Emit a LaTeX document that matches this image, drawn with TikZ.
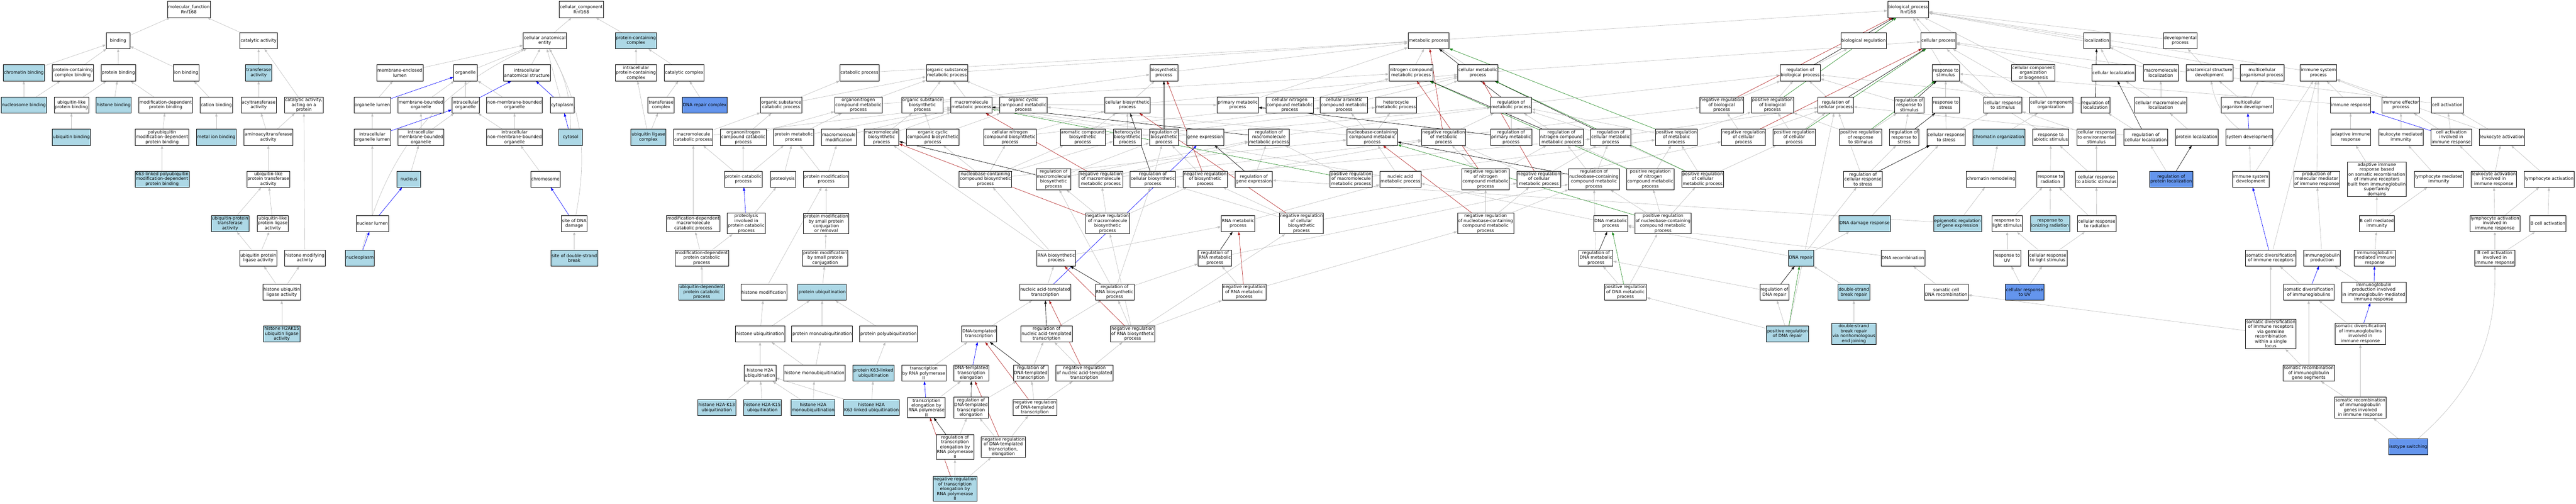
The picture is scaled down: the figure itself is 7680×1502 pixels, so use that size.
\documentclass[tikz,border=0pt]{standalone}
\usepackage{fontspec}
\setmainfont{DejaVu Sans}
\usetikzlibrary{arrows.meta, backgrounds}
\definecolor{hitblue}{HTML}{ADD8E6}
\definecolor{leafblue}{HTML}{6495ED}
\definecolor{isagray}{HTML}{C0C0C0}
\definecolor{negred}{HTML}{B22222}
\definecolor{posgreen}{HTML}{228B22}
\tikzset{goterm/.style={ % Sets the properties for each GO term box
draw, rectangle, fill=white, line width=1pt, align=center,
minimum width=71pt, minimum height=48pt, inner xsep=2pt, inner ysep=3pt,
font=\fontsize{13pt}{14.5pt}\selectfont},
annot/.style={fill=hitblue}, % annotated terms
direct/.style={fill=leafblue}, % terms of the query
every edge/.style={ % Sets the properties for each relation
draw, line width=1pt, -{Triangle[length=10pt,width=7pt]}},
isa/.style={draw=isagray},
partof/.style={draw=blue},
reg/.style={draw=black},
negreg/.style={draw=negred},
posreg/.style={draw=posgreen}}

\begin{document}
\begin{tikzpicture}[x=1pt, y=-1pt]
\useasboundingbox (0,0) rectangle (7680,1502);

% molecular function
\node[goterm] (mf) at (563,28) {molecular\_function\\Rnf168};
\node[goterm] (binding) at (352,121) {binding};
\node[goterm] (catact) at (771,121) {catalytic activity};
\node[goterm, annot] (chrombind) at (71,217) {chromatin binding};
\node[goterm] (pccbind) at (217,217) {protein-containing\\complex binding};
\node[goterm] (protbind) at (353,217) {protein binding};
\node[goterm] (ionbind) at (555,217) {ion binding};
\node[goterm, annot] (transf) at (771,217) {transferase\\activity};
\node[goterm, annot] (nucbind) at (71,313) {nucleosome binding};
\node[goterm] (ublbind) at (213,313) {ubiquitin-like\\protein binding};
\node[goterm, annot] (histbind) at (339,313) {histone binding};
\node[goterm] (moddepbind) at (494,313) {modification-dependent\\protein binding};
\node[goterm] (catbind) at (645,313) {cation binding};
\node[goterm] (acyl) at (771,313) {acyltransferase\\activity};
\node[goterm] (catprot) at (906,313) {catalytic activity,\\acting on a\\protein};
\node[goterm, annot] (ubbind) at (213,409) {ubiquitin binding};
\node[goterm] (polyubbind) at (483,409) {polyubiquitin\\modification-dependent\\protein binding};
\node[goterm, annot] (metalbind) at (645,409) {metal ion binding};
\node[goterm] (aminoacyl) at (800,409) {aminoacyltransferase\\activity};
\node[goterm, annot] (k63bind) at (483,534) {K63-linked polyubiquitin\\modification-dependent\\protein binding};
\node[goterm] (ubltransf) at (800,534) {ubiquitin-like\\protein transferase\\activity};
\node[goterm, annot] (ubtransf) at (686,666) {ubiquitin-protein\\transferase\\activity};
\node[goterm] (ublligase) at (813,666) {ubiquitin-like\\protein ligase\\activity};
\node[goterm] (ubligase) at (770,769) {ubiquitin protein\\ligase activity};
\node[goterm] (histmod) at (909,769) {histone modifying\\activity};
\node[goterm] (histubligase) at (840,871) {histone ubiquitin\\ligase activity};
\node[goterm, annot] (h2ak15ligase) at (840,995) {histone H2AK15\\ubiquitin ligase\\activity};

% cellular component
\node[goterm] (cc) at (1733,28) {cellular\_component\\Rnf168};
\node[goterm] (cae) at (1624,121) {cellular anatomical\\entity};
\node[goterm, annot] (pcc) at (1896,121) {protein-containing\\complex};
\node[goterm] (memlumen) at (1192,217) {membrane-enclosed\\lumen};
\node[goterm] (organelle) at (1388,217) {organelle};
\node[goterm] (ias) at (1571,217) {intracellular\\anatomical structure};
\node[goterm] (ipcc) at (1896,217) {intracellular\\protein-containing\\complex};
\node[goterm] (catcomplex) at (2040,217) {catalytic complex};
\node[goterm] (orglumen) at (1110,313) {organelle lumen};
\node[goterm] (mbo) at (1255,313) {membrane-bounded\\organelle};
\node[goterm] (intorg) at (1388,313) {intracellular\\organelle};
\node[goterm] (nmbo) at (1534,313) {non-membrane-bounded\\organelle};
\node[goterm] (cytoplasm) at (1676,313) {cytoplasm};
\node[goterm] (transfcomplex) at (1971,313) {transferase\\complex};
\node[goterm, direct] (dnarepcomplex) at (2101,313) {DNA repair complex};
\node[goterm] (iolumen) at (1110,409) {intracellular\\organelle lumen};
\node[goterm] (imbo) at (1255,409) {intracellular\\membrane-bounded\\organelle};
\node[goterm] (inmbo) at (1534,409) {intracellular\\non-membrane-bounded\\organelle};
\node[goterm, annot] (cytosol) at (1701,409) {cytosol};
\node[goterm, annot] (ubligcomplex) at (1933,409) {ubiquitin ligase\\complex};
\node[goterm, annot] (nucleus) at (1219,534) {nucleus};
\node[goterm] (chromosome) at (1626,534) {chromosome};
\node[goterm] (nuclumen) at (1110,666) {nuclear lumen};
\node[goterm] (dnadamsite) at (1712,666) {site of DNA\\damage};
\node[goterm, annot] (nucleoplasm) at (1073,769) {nucleoplasm};
\node[goterm, annot] (dsbsite) at (1712,769) {site of double-strand\\break};

% biological process: protein metabolism
\node[goterm] (bp) at (5689,28) {biological\_process\\Rnf168};
\node[goterm] (catab) at (2562,217) {catabolic process};
\node[goterm] (orgcatab) at (2329,313) {organic substance\\catabolic process};
\node[goterm] (orgNmet) at (2559,313) {organonitrogen\\compound metabolic\\process};
\node[goterm] (macrocatab) at (2067,409) {macromolecule\\catabolic process};
\node[goterm] (orgNcatab) at (2216,409) {organonitrogen\\compound catabolic\\process};
\node[goterm] (protmet) at (2366,409) {protein metabolic\\process};
\node[goterm] (macromod) at (2501,409) {macromolecule\\modification};
\node[goterm] (protcatab) at (2216,534) {protein catabolic\\process};
\node[goterm] (proteolysis) at (2334,534) {proteolysis};
\node[goterm] (protmod) at (2463,534) {protein modification\\process};
\node[goterm] (moddepmacrocatab) at (2067,666) {modification-dependent\\macromolecule\\catabolic process};
\node[goterm] (proteolysiscatab) at (2225,666) {proteolysis\\involved in\\protein catabolic\\process};
\node[goterm] (protmodsmall) at (2463,666) {protein modification\\by small protein\\conjugation\\or removal};
\node[goterm] (moddepprotcatab) at (2092,769) {modification-dependent\\protein catabolic\\process};
\node[goterm] (protmodconj) at (2460,769) {protein modification\\by small protein\\conjugation};
\node[goterm, annot] (ubdepcatab) at (2092,871) {ubiquitin-dependent\\protein catabolic\\process};
\node[goterm] (histmodif) at (2277,871) {histone modification};
\node[goterm, annot] (protubiq) at (2451,871) {protein ubiquitination};
\node[goterm] (histubiq) at (2266,995) {histone ubiquitination};
\node[goterm] (protmonoubiq) at (2451,995) {protein monoubiquitination};
\node[goterm] (protpolyubiq) at (2649,995) {protein polyubiquitination};
\node[goterm] (h2aubiq) at (2266,1112) {histone H2A\\ubiquitination};
\node[goterm] (histmonoubiq) at (2428,1112) {histone monoubiquitination};
\node[goterm, annot] (k63ubiq) at (2604,1112) {protein K63-linked\\ubiquitination};
\node[goterm, annot] (h2ak13) at (2137,1215) {histone H2A-K13\\ubiquitination};
\node[goterm, annot] (h2ak15) at (2273,1215) {histone H2A-K15\\ubiquitination};
\node[goterm, annot] (h2amono) at (2424,1215) {histone H2A\\monoubiquitination};
\node[goterm, annot] (h2ak63) at (2598,1215) {histone H2A\\K63-linked ubiquitination};

% biosynthesis and transcription
\node[goterm] (orgsubmet) at (2823,217) {organic substance\\metabolic process};
\node[goterm] (biosyn) at (3470,217) {biosynthetic\\process};
\node[goterm] (orgsubbiosyn) at (2750,313) {organic substance\\biosynthetic\\process};
\node[goterm] (macromet) at (2896,313) {macromolecule\\metabolic process};
\node[goterm] (orgcycmet) at (3051,313) {organic cyclic\\compound metabolic\\process};
\node[goterm] (cellbiosyn) at (3361,313) {cellular biosynthetic\\process};
\node[goterm] (primmet) at (3690,313) {primary metabolic\\process};
\node[goterm] (cellNmet) at (3845,313) {cellular nitrogen\\compound metabolic\\process};
\node[goterm] (macrobiosyn) at (2628,409) {macromolecule\\biosynthetic\\process};
\node[goterm] (orgcycbiosyn) at (2781,409) {organic cyclic\\compound biosynthetic\\process};
\node[goterm] (cellNbiosyn) at (3011,409) {cellular nitrogen\\compound biosynthetic\\process};
\node[goterm] (arombiosyn) at (3228,409) {aromatic compound\\biosynthetic\\process};
\node[goterm] (hetbiosyn) at (3361,409) {heterocycle\\biosynthetic\\process};
\node[goterm] (regbiosyn) at (3470,409) {regulation of\\biosynthetic\\process};
\node[goterm] (geneexpr) at (3593,409) {gene expression};
\node[goterm] (regmacromet) at (3783,409) {regulation of\\macromolecule\\metabolic process};
\node[goterm] (nucbiosyn) at (2938,534) {nucleobase-containing\\compound biosynthetic\\process};
\node[goterm] (regmacrobiosyn) at (3141,534) {regulation of\\macromolecule\\biosynthetic\\process};
\node[goterm] (negregmacromet) at (3282,534) {negative regulation\\of macromolecule\\metabolic process};
\node[goterm] (regcellbiosyn) at (3437,534) {regulation of\\cellular biosynthetic\\process};
\node[goterm] (negregbiosyn) at (3593,534) {negative regulation\\of biosynthetic\\process};
\node[goterm] (reggeneexpr) at (3738,534) {regulation of\\gene expression};
\node[goterm] (negregmacrobiosyn) at (3302,666) {negative regulation\\of macromolecule\\biosynthetic\\process};
\node[goterm] (rnamet) at (3691,666) {RNA metabolic\\process};
\node[goterm] (negregcellbiosyn) at (3880,666) {negative regulation\\of cellular\\biosynthetic\\process};
\node[goterm] (rnabiosyn) at (3149,769) {RNA biosynthetic\\process};
\node[goterm] (regrnamet) at (3622,769) {regulation of\\RNA metabolic\\process};
\node[goterm] (natrans) at (3116,871) {nucleic acid-templated\\transcription};
\node[goterm] (regrnabiosyn) at (3323,871) {regulation of\\RNA biosynthetic\\process};
\node[goterm] (negregrnamet) at (3709,871) {negative regulation\\of RNA metabolic\\process};
\node[goterm] (dnatrans) at (2919,995) {DNA-templated\\transcription};
\node[goterm] (regnatrans) at (3120,995) {regulation of\\nucleic acid-templated\\transcription};
\node[goterm] (negregrnabiosyn) at (3377,995) {negative regulation\\of RNA biosynthetic\\process};
\node[goterm] (transpol2) at (2754,1112) {transcription\\by RNA polymerase\\II};
\node[goterm] (dnaelong) at (2896,1112) {DNA-templated\\transcription\\elongation};
\node[goterm] (regdnatrans) at (3073,1112) {regulation of\\DNA-templated\\transcription};
\node[goterm] (negregnatrans) at (3233,1112) {negative regulation\\of nucleic acid-templated\\transcription};
\node[goterm] (elongpol2) at (2762,1215) {transcription\\elongation by\\RNA polymerase\\II};
\node[goterm] (regdnaelong) at (2895,1215) {regulation of\\DNA-templated\\transcription\\elongation};
\node[goterm] (negregdnatrans) at (3085,1215) {negative regulation\\of DNA-templated\\transcription};
\node[goterm] (regelongpol2) at (2847,1332) {regulation of\\transcription\\elongation by\\RNA polymerase\\II};
\node[goterm] (negregdnaelong) at (2991,1332) {negative regulation\\of DNA-templated\\transcription,\\elongation};
\node[goterm, annot] (negregelongpol2) at (2847,1457) {negative regulation\\of transcription\\elongation by\\RNA polymerase\\II};

% metabolism and its regulation
\node[goterm] (metab) at (4259,121) {metabolic process};
\node[goterm] (nmet) at (4207,217) {nitrogen compound\\metabolic process};
\node[goterm] (cellmet) at (4406,217) {cellular metabolic\\process};
\node[goterm] (cellaromet) at (4007,313) {cellular aromatic\\compound metabolic\\process};
\node[goterm] (hetmet) at (4162,313) {heterocycle\\metabolic process};
\node[goterm] (regmet) at (4505,313) {regulation of\\metabolic process};
\node[goterm] (negregbio) at (5133,313) {negative regulation\\of biological\\process};
\node[goterm] (nucmet) at (4091,409) {nucleobase-containing\\compound metabolic\\process};
\node[goterm] (negregmet) at (4304,409) {negative regulation\\of metabolic\\process};
\node[goterm] (regprimmet) at (4505,409) {regulation of\\primary metabolic\\process};
\node[goterm] (regnmet) at (4655,409) {regulation of\\nitrogen compound\\metabolic process};
\node[goterm] (regcellmet) at (4802,409) {regulation of\\cellular metabolic\\process};
\node[goterm] (posregmet) at (4998,409) {positive regulation\\of metabolic\\process};
\node[goterm] (posregmacromet) at (4028,534) {positive regulation\\of macromolecule\\metabolic process};
\node[goterm] (nucacidmet) at (4175,534) {nucleic acid\\metabolic process};
\node[goterm] (negregnmet) at (4429,534) {negative regulation\\of nitrogen\\compound metabolic\\process};
\node[goterm] (negregcellmet) at (4588,534) {negative regulation\\of cellular\\metabolic process};
\node[goterm] (regnucmet) at (4752,534) {regulation of\\nucleobase-containing\\compound metabolic\\process};
\node[goterm] (posregnmet) at (4920,534) {positive regulation\\of nitrogen\\compound metabolic\\process};
\node[goterm] (posregcellmet) at (5076,534) {positive regulation\\of cellular\\metabolic process};
\node[goterm] (negregnucmet) at (4429,666) {negative regulation\\of nucleobase-containing\\compound metabolic\\process};
\node[goterm] (dnamet) at (4802,666) {DNA metabolic\\process};
\node[goterm] (posregnucmet) at (4958,666) {positive regulation\\of nucleobase-containing\\compound metabolic\\process};
\node[goterm] (regdnamet) at (4758,769) {regulation of\\DNA metabolic\\process};
\node[goterm] (posregdnamet) at (4846,871) {positive regulation\\of DNA metabolic\\process};

% regulation, stimulus, localization, immunity
\node[goterm] (bioreg) at (5556,121) {biological regulation};
\node[goterm] (cellproc) at (5779,121) {cellular process};
\node[goterm] (localization) at (6251,121) {localization};
\node[goterm] (devproc) at (6500,121) {developmental\\process};
\node[goterm] (regbio) at (5367,217) {regulation of\\biological process};
\node[goterm] (respstim) at (5801,217) {response to\\stimulus};
\node[goterm] (ccob) at (6062,217) {cellular component\\organization\\or biogenesis};
\node[goterm] (cellloc) at (6301,217) {cellular localization};
\node[goterm] (macroloc) at (6442,217) {macromolecule\\localization};
\node[goterm] (anatdev) at (6587,217) {anatomical structure\\development};
\node[goterm] (multiproc) at (6744,217) {multicellular\\organismal process};
\node[goterm] (immproc) at (6912,217) {immune system\\process};
\node[goterm] (posregbio) at (5284,313) {positive regulation\\of biological\\process};
\node[goterm] (regcellproc) at (5473,313) {regulation of\\cellular process};
\node[goterm] (regrespstim) at (5692,313) {regulation of\\response to\\stimulus};
\node[goterm] (respstress) at (5801,313) {response to\\stress};
\node[goterm] (cellrespstim) at (5971,313) {cellular response\\to stimulus};
\node[goterm] (cco) at (6115,313) {cellular component\\organization};
\node[goterm] (regloc) at (6247,313) {regulation of\\localization};
\node[goterm] (cellmacroloc) at (6442,313) {cellular macromolecule\\localization};
\node[goterm] (multidev) at (6700,313) {multicellular\\organism development};
\node[goterm] (immresp) at (7008,313) {immune response};
\node[goterm] (immeff) at (7158,313) {immune effector\\process};
\node[goterm] (cellact) at (7296,313) {cell activation};
\node[goterm] (negregcellproc) at (5198,409) {negative regulation\\of cellular\\process};
\node[goterm] (posregcellproc) at (5349,409) {positive regulation\\of cellular\\process};
\node[goterm] (posregrespstim) at (5547,409) {positive regulation\\of response\\to stimulus};
\node[goterm] (regrespstress) at (5677,409) {regulation of\\response to\\stress};
\node[goterm] (cellrespstress) at (5802,409) {cellular response\\to stress};
\node[goterm, annot] (chromorg) at (5959,409) {chromatin organization};
\node[goterm] (respabiotic) at (6114,409) {response to\\abiotic stimulus};
\node[goterm] (cellrespenv) at (6250,409) {cellular response\\to environmental\\stimulus};
\node[goterm] (regcellloc) at (6397,409) {regulation of\\cellular localization};
\node[goterm] (protloc) at (6549,409) {protein localization};
\node[goterm] (sysdev) at (6706,409) {system development};
\node[goterm] (adaptimm) at (7008,409) {adaptive immune\\response};
\node[goterm] (leukimm) at (7158,409) {leukocyte mediated\\immunity};
\node[goterm] (cellactimm) at (7308,409) {cell activation\\involved in\\immune response};
\node[goterm] (leukact) at (7459,409) {leukocyte activation};
\node[goterm] (regcellrespstress) at (5554,534) {regulation of\\cellular response\\to stress};
\node[goterm] (chromremod) at (5936,534) {chromatin remodeling};
\node[goterm] (resprad) at (6113,534) {response to\\radiation};
\node[goterm] (cellrespabiotic) at (6250,534) {cellular response\\to abiotic stimulus};
\node[goterm, direct] (regprotloc) at (6473,534) {regulation of\\protein localization};
\node[goterm] (immsysdev) at (6710,534) {immune system\\development};
\node[goterm] (prodmed) at (6907,534) {production of\\molecular mediator\\of immune response};
\node[goterm] (adaptsomatic) at (7086,534) {adaptive immune\\response based\\on somatic recombination\\of immune receptors\\built from immunoglobulin\\superfamily\\domains};
\node[goterm] (lymphimm) at (7271,534) {lymphocyte mediated\\immunity};
\node[goterm] (leukactimm) at (7435,534) {leukocyte activation\\involved in\\immune response};
\node[goterm] (lymphact) at (7600,534) {lymphocyte activation};
\node[goterm, annot] (dnadamresp) at (5559,666) {DNA damage response};
\node[goterm, annot] (epigen) at (5836,666) {epigenetic regulation\\of gene expression};
\node[goterm] (resplight) at (5984,666) {response to\\light stimulus};
\node[goterm, annot] (respionrad) at (6112,666) {response to\\ionizing radiation};
\node[goterm] (cellresprad) at (6251,666) {cellular response\\to radiation};
\node[goterm] (bcellimm) at (7086,666) {B cell mediated\\immunity};
\node[goterm] (lymphactimm) at (7438,666) {lymphocyte activation\\involved in\\immune response};
\node[goterm] (bcellact) at (7596,666) {B cell activation};
\node[goterm, annot] (dnarepair) at (5369,769) {DNA repair};
\node[goterm] (dnarecomb) at (5673,769) {DNA recombination};
\node[goterm] (respuv) at (5984,769) {response to\\UV};
\node[goterm] (cellresplight) at (6105,769) {cellular response\\to light stimulus};
\node[goterm] (somdivrec) at (6770,769) {somatic diversification\\of immune receptors};
\node[goterm] (igprod) at (6923,769) {immunoglobulin\\production};
\node[goterm] (igmedresp) at (7080,769) {immunoglobulin\\mediated immune\\response};
\node[goterm] (bcellactimm) at (7438,769) {B cell activation\\involved in\\immune response};
\node[goterm] (regdnarepair) at (5290,871) {regulation of\\DNA repair};
\node[goterm, annot] (dsbrepair) at (5527,871) {double-strand\\break repair};
\node[goterm] (somcellrecomb) at (5802,871) {somatic cell\\DNA recombination};
\node[goterm, direct] (cellrespuv) at (6036,871) {cellular response\\to UV};
\node[goterm] (somdivig) at (6883,871) {somatic diversification\\of immunoglobulins};
\node[goterm] (igprodinv) at (7077,871) {immunoglobulin\\production involved\\in immunoglobulin-mediated\\immune response};
\node[goterm, annot] (posregdnarepair) at (5329,995) {positive regulation\\of DNA repair};
\node[goterm, annot] (nhej) at (5527,995) {double-strand\\break repair\\via nonhomologous\\end joining};
\node[goterm] (somdivgerm) at (6770,995) {somatic diversification\\of immune receptors\\via germline\\recombination\\within a single\\locus};
\node[goterm] (somdivigimm) at (7037,995) {somatic diversification\\of immunoglobulins\\involved in\\immune response};
\node[goterm] (somrecseg) at (6883,1112) {somatic recombination\\of immunoglobulin\\gene segments};
\node[goterm] (somrecimm) at (7037,1215) {somatic recombination\\of immunoglobulin\\genes involved\\in immune response};
\node[goterm, direct] (isotype) at (7180,1332) {isotype switching};

\begin{scope}[on background layer]
\fill[white] (0,0) rectangle (7680,1502);
% molecular function
\draw (binding) edge[isa] (mf);
\draw (catact) edge[isa] (mf);
\draw (chrombind) edge[isa] (binding);
\draw (pccbind) edge[isa] (binding);
\draw (protbind) edge[isa] (binding);
\draw (ionbind) edge[isa] (binding);
\draw (transf) edge[isa] (catact);
\draw (catprot) edge[isa] (catact);
\draw (nucbind) edge[isa] (chrombind) edge[isa] (pccbind);
\draw (ublbind) edge[isa] (protbind);
\draw (histbind) edge[isa] (protbind);
\draw (moddepbind) edge[isa] (protbind);
\draw (catbind) edge[isa] (ionbind);
\draw (acyl) edge[isa] (transf);
\draw (ubbind) edge[isa] (ublbind);
\draw (polyubbind) edge[isa] (moddepbind);
\draw (metalbind) edge[isa] (catbind);
\draw (aminoacyl) edge[isa] (acyl) edge[isa] (catprot);
\draw (k63bind) edge[isa] (polyubbind);
\draw (ubltransf) edge[isa] (aminoacyl);
\draw (ubtransf) edge[isa] (ubltransf);
\draw (ublligase) edge[isa] (ubltransf);
\draw (ubligase) edge[isa] (ubtransf) edge[isa] (ublligase);
\draw (histmod) edge[isa] (catprot);
\draw (histubligase) edge[isa] (ubligase) edge[isa] (histmod);
\draw (h2ak15ligase) edge[isa] (histubligase);
% cellular component
\draw (cae) edge[isa] (cc);
\draw (pcc) edge[isa] (cc);
\draw (memlumen) edge[isa] (cae);
\draw (organelle) edge[isa] (cae);
\draw (ias) edge[isa] (cae);
\draw (ipcc) edge[isa] (pcc);
\draw (catcomplex) edge[isa] (pcc);
\draw (orglumen) edge[isa] (memlumen) edge[partof] (organelle);
\draw (mbo) edge[isa] (organelle);
\draw (intorg) edge[isa] (organelle) edge[partof] (ias);
\draw (nmbo) edge[isa] (organelle);
\draw (cytoplasm) edge[isa] (cae) edge[partof] (ias);
\draw (transfcomplex) edge[isa] (catcomplex);
\draw (dnarepcomplex) edge[isa] (catcomplex);
\draw (iolumen) edge[isa] (orglumen) edge[partof] (intorg);
\draw (imbo) edge[isa] (mbo) edge[isa] (intorg);
\draw (inmbo) edge[isa] (intorg) edge[isa] (nmbo);
\draw (cytosol) edge[isa, bend right=15] (cae) edge[partof] (cytoplasm);
\draw (ubligcomplex) edge[isa] (ipcc) edge[isa] (transfcomplex);
\draw (nucleus) edge[isa] (imbo);
\draw (chromosome) edge[isa] (inmbo);
\draw (nuclumen) edge[isa] (iolumen) edge[partof] (nucleus);
\draw (dnadamsite) edge[isa, bend right=20] (cae) edge[partof] (chromosome);
\draw (nucleoplasm) edge[isa, bend left=25] (cae) edge[partof] (nuclumen);
\draw (dsbsite) edge[isa] (dnadamsite);
% protein metabolism
\draw (catab) edge[isa] (metab);
\draw (orgcatab) edge[isa] (catab) edge[isa] (orgsubmet);
\draw (orgNmet) edge[isa] (orgsubmet) edge[isa] (nmet);
\draw (macrocatab) edge[isa] (orgcatab) edge[isa] (macromet);
\draw (orgNcatab) edge[isa] (orgcatab) edge[isa] (orgNmet);
\draw (protmet) edge[isa] (orgNmet) edge[isa] (macromet);
\draw (macromod) edge[isa] (macromet);
\draw (protcatab) edge[isa] (macrocatab) edge[isa] (orgNcatab) edge[isa] (protmet);
\draw (proteolysis) edge[isa] (protmet);
\draw (protmod) edge[isa] (protmet) edge[isa] (macromod);
\draw (moddepmacrocatab) edge[isa] (macrocatab);
\draw (proteolysiscatab) edge[isa] (proteolysis) edge[partof] (protcatab);
\draw (protmodsmall) edge[isa] (protmod);
\draw (moddepprotcatab) edge[isa] (moddepmacrocatab) edge[isa] (proteolysiscatab);
\draw (protmodconj) edge[isa] (protmodsmall);
\draw (ubdepcatab) edge[isa] (moddepprotcatab);
\draw (histmodif) edge[isa] (protmod);
\draw (protubiq) edge[isa] (protmodconj);
\draw (histubiq) edge[isa] (histmodif) edge[isa] (protubiq);
\draw (protmonoubiq) edge[isa] (protubiq);
\draw (protpolyubiq) edge[isa] (protubiq);
\draw (h2aubiq) edge[isa] (histubiq);
\draw (histmonoubiq) edge[isa] (histubiq) edge[isa] (protmonoubiq);
\draw (k63ubiq) edge[isa] (protpolyubiq);
\draw (h2ak13) edge[isa] (h2aubiq);
\draw (h2ak15) edge[isa] (h2aubiq);
\draw (h2amono) edge[isa] (h2aubiq) edge[isa] (histmonoubiq);
\draw (h2ak63) edge[isa] (h2aubiq) edge[isa] (k63ubiq);
% biosynthesis and transcription
\draw (orgsubmet) edge[isa] (metab);
\draw (biosyn) edge[isa] (metab);
\draw (orgsubbiosyn) edge[isa] (orgsubmet) edge[isa] (biosyn);
\draw (macromet) edge[isa] (orgsubmet) edge[isa] (primmet);
\draw (orgcycmet) edge[isa] (orgsubmet);
\draw (cellbiosyn) edge[isa] (biosyn) edge[isa] (cellmet);
\draw (primmet) edge[isa] (metab);
\draw (cellNmet) edge[isa] (nmet) edge[isa] (cellmet);
\draw (macrobiosyn) edge[isa] (macromet) edge[isa] (orgsubbiosyn);
\draw (orgcycbiosyn) edge[isa] (orgsubbiosyn) edge[isa] (orgcycmet);
\draw (cellNbiosyn) edge[isa] (cellbiosyn) edge[isa] (cellNmet);
\draw (arombiosyn) edge[isa] (cellbiosyn) edge[isa] (cellaromet);
\draw (hetbiosyn) edge[isa] (cellbiosyn) edge[isa] (hetmet);
\draw (regbiosyn) edge[isa] (regmet) edge[reg] (biosyn);
\draw (geneexpr) edge[isa] (macromet);
\draw (regmacromet) edge[isa] (regmet) edge[reg] (macromet);
\draw (nucbiosyn) edge[isa] (nucmet) edge[isa] (orgcycbiosyn) edge[isa] (cellNbiosyn) edge[isa] (arombiosyn) edge[isa] (hetbiosyn);
\draw (regmacrobiosyn) edge[isa] (regbiosyn) edge[isa] (regmacromet) edge[reg] (macrobiosyn);
\draw (negregmacromet) edge[isa] (regmacromet) edge[isa] (negregmet) edge[negreg] (macromet);
\draw (regcellbiosyn) edge[isa] (regbiosyn) edge[isa] (regcellmet) edge[reg] (cellbiosyn);
\draw (negregbiosyn) edge[isa] (regbiosyn) edge[isa] (negregmet) edge[negreg] (biosyn);
\draw (reggeneexpr) edge[isa] (regmacromet) edge[reg] (geneexpr);
\draw (negregmacrobiosyn) edge[isa] (regmacrobiosyn) edge[isa] (negregmacromet) edge[isa] (negregbiosyn) edge[negreg] (macrobiosyn);
\draw (rnamet) edge[isa] (nucacidmet);
\draw (negregcellbiosyn) edge[isa] (regcellbiosyn) edge[isa] (negregbiosyn) edge[isa] (negregcellmet) edge[negreg] (cellbiosyn);
\draw (rnabiosyn) edge[isa] (rnamet) edge[isa] (nucbiosyn) edge[isa] (macrobiosyn);
\draw (regrnamet) edge[isa] (regnucmet) edge[reg] (rnamet);
\draw (natrans) edge[isa] (rnabiosyn) edge[partof] (geneexpr);
\draw (regrnabiosyn) edge[isa] (regrnamet) edge[isa] (regmacrobiosyn) edge[isa] (regcellbiosyn) edge[reg] (rnabiosyn);
\draw (negregrnamet) edge[isa] (regrnamet) edge[isa] (negregnucmet) edge[negreg] (rnamet);
\draw (dnatrans) edge[isa] (natrans);
\draw (regnatrans) edge[isa] (regrnabiosyn) edge[reg] (natrans);
\draw (negregrnabiosyn) edge[isa] (regrnabiosyn) edge[isa] (negregrnamet) edge[isa] (negregmacrobiosyn) edge[isa] (negregcellbiosyn) edge[negreg] (rnabiosyn);
\draw (transpol2) edge[isa] (dnatrans);
\draw (dnaelong) edge[partof] (dnatrans);
\draw (regdnatrans) edge[isa] (regnatrans) edge[reg] (dnatrans);
\draw (negregnatrans) edge[isa] (regnatrans) edge[isa] (negregrnabiosyn) edge[negreg] (natrans);
\draw (elongpol2) edge[isa] (dnaelong) edge[partof] (transpol2);
\draw (regdnaelong) edge[isa] (regdnatrans) edge[reg] (dnaelong);
\draw (negregdnatrans) edge[isa] (regdnatrans) edge[isa] (negregnatrans) edge[negreg] (dnatrans);
\draw (regelongpol2) edge[isa] (regdnaelong) edge[reg] (elongpol2);
\draw (negregdnaelong) edge[isa] (regdnaelong) edge[isa] (negregdnatrans) edge[negreg] (dnaelong);
\draw (negregelongpol2) edge[isa] (regelongpol2) edge[isa] (negregdnaelong) edge[negreg] (elongpol2);
% metabolism and its regulation
\draw (metab) edge[isa] (bp);
\draw (nmet) edge[isa] (metab);
\draw (cellmet) edge[isa] (metab) edge[isa] (cellproc);
\draw (cellaromet) edge[isa] (cellmet);
\draw (hetmet) edge[isa] (cellmet);
\draw (regmet) edge[isa] (regbio) edge[reg] (metab);
\draw (nucmet) edge[isa] (cellaromet) edge[isa] (hetmet) edge[isa] (orgcycmet) edge[isa] (cellNmet);
\draw (negregmet) edge[isa] (regmet) edge[isa] (negregbio) edge[negreg] (metab);
\draw (regprimmet) edge[isa] (regmet) edge[reg] (primmet);
\draw (regnmet) edge[isa] (regmet) edge[reg] (nmet);
\draw (regcellmet) edge[isa] (regmet) edge[isa] (regcellproc) edge[reg] (cellmet);
\draw (posregmet) edge[isa] (regmet) edge[isa] (posregbio) edge[posreg] (metab);
\draw (posregmacromet) edge[isa] (regmacromet) edge[isa] (posregmet) edge[posreg] (macromet);
\draw (nucacidmet) edge[isa] (nucmet) edge[isa] (macromet);
\draw (negregnmet) edge[isa] (regnmet) edge[isa] (negregmet) edge[negreg] (nmet);
\draw (negregcellmet) edge[isa] (regcellmet) edge[isa] (negregmet) edge[isa] (negregcellproc) edge[negreg] (cellmet);
\draw (regnucmet) edge[isa] (regnmet) edge[isa] (regcellmet) edge[reg] (nucmet);
\draw (posregnmet) edge[isa] (regnmet) edge[isa] (posregmet) edge[posreg] (nmet);
\draw (posregcellmet) edge[isa] (regcellmet) edge[isa] (posregmet) edge[isa] (posregcellproc) edge[posreg] (cellmet);
\draw (negregnucmet) edge[isa] (regnucmet) edge[isa] (negregnmet) edge[isa] (negregcellmet) edge[negreg] (nucmet);
\draw (dnamet) edge[isa] (nucacidmet);
\draw (posregnucmet) edge[isa] (regnucmet) edge[isa] (posregnmet) edge[isa] (posregcellmet) edge[posreg] (nucmet);
\draw (regdnamet) edge[isa] (regnucmet) edge[reg] (dnamet);
\draw (posregdnamet) edge[isa] (regdnamet) edge[isa] (posregnucmet) edge[posreg] (dnamet);
% regulation, stimulus, localization, immunity
\draw (bioreg) edge[isa] (bp);
\draw (cellproc) edge[isa] (bp);
\draw (localization) edge[isa] (bp);
\draw (devproc) edge[isa] (bp);
\draw (respstim) edge[isa] (bp);
\draw (ccob) edge[isa] (bp);
\draw (multiproc) edge[isa] (bp);
\draw (immproc) edge[isa] (bp);
\draw (regbio) edge[isa] (bioreg) edge[reg] (bp);
\draw (negregbio) edge[isa] (regbio) edge[negreg] (bp);
\draw (posregbio) edge[isa] (regbio) edge[posreg] (bp);
\draw (regcellproc) edge[isa] (regbio) edge[reg] (cellproc);
\draw (regrespstim) edge[isa] (regbio) edge[reg] (respstim);
\draw (respstress) edge[isa] (respstim);
\draw (cellrespstim) edge[isa] (respstim) edge[isa] (cellproc);
\draw (cco) edge[isa] (ccob) edge[isa] (cellproc);
\draw (regloc) edge[isa] (regbio) edge[reg] (localization);
\draw (cellloc) edge[isa] (localization) edge[isa] (cellproc);
\draw (macroloc) edge[isa] (localization);
\draw (cellmacroloc) edge[isa] (macroloc) edge[isa] (cellloc);
\draw (anatdev) edge[isa] (devproc);
\draw (multidev) edge[isa] (anatdev) edge[isa] (multiproc);
\draw (immresp) edge[isa] (immproc) edge[isa] (respstim);
\draw (immeff) edge[isa] (immproc);
\draw (cellact) edge[isa] (cellproc);
\draw (negregcellproc) edge[isa] (regcellproc) edge[isa] (negregbio) edge[negreg] (cellproc);
\draw (posregcellproc) edge[isa] (regcellproc) edge[isa] (posregbio) edge[posreg] (cellproc);
\draw (posregrespstim) edge[isa] (regrespstim) edge[isa] (posregbio) edge[posreg] (respstim);
\draw (regrespstress) edge[isa] (regrespstim) edge[reg] (respstress);
\draw (cellrespstress) edge[isa] (respstress) edge[isa] (cellrespstim);
\draw (chromorg) edge[isa] (cco);
\draw (respabiotic) edge[isa] (respstim);
\draw (cellrespenv) edge[isa] (cellrespstim);
\draw (regcellloc) edge[isa] (regloc) edge[isa] (regcellproc) edge[reg] (cellloc);
\draw (protloc) edge[isa] (cellmacroloc);
\draw (sysdev) edge[isa, bend left=20] (anatdev) edge[partof] (multidev);
\draw (adaptimm) edge[isa] (immresp);
\draw (leukimm) edge[isa] (immeff);
\draw (cellactimm) edge[isa] (immeff) edge[isa] (cellact) edge[partof] (immresp);
\draw (leukact) edge[isa] (cellact) edge[isa] (immproc);
\draw (regcellrespstress) edge[isa] (regrespstress) edge[isa] (regcellproc) edge[reg] (cellrespstress);
\draw (chromremod) edge[isa] (chromorg);
\draw (resprad) edge[isa] (respabiotic);
\draw (cellrespabiotic) edge[isa] (respabiotic) edge[isa] (cellrespenv);
\draw (regprotloc) edge[isa] (regcellloc) edge[reg] (protloc);
\draw (immsysdev) edge[isa] (immproc) edge[isa] (sysdev);
\draw (prodmed) edge[isa] (immproc);
\draw (adaptsomatic) edge[isa] (adaptimm);
\draw (lymphimm) edge[isa] (leukimm);
\draw (leukactimm) edge[isa] (cellactimm) edge[isa] (leukact);
\draw (lymphact) edge[isa] (leukact);
\draw (dnadamresp) edge[isa] (cellrespstress);
\draw (epigen) edge[isa] (chromremod) edge[isa] (reggeneexpr);
\draw (resplight) edge[isa] (resprad);
\draw (respionrad) edge[isa] (resprad);
\draw (cellresprad) edge[isa] (resprad) edge[isa] (cellrespabiotic);
\draw (bcellimm) edge[isa] (adaptsomatic) edge[isa] (lymphimm);
\draw (lymphactimm) edge[isa] (leukactimm) edge[isa] (lymphact);
\draw (bcellact) edge[isa] (lymphact);
\draw (dnarepair) edge[isa] (dnadamresp) edge[isa] (dnamet);
\draw (dnarecomb) edge[isa] (dnamet);
\draw (respuv) edge[isa] (resplight);
\draw (cellresplight) edge[isa] (resplight) edge[isa] (cellresprad);
\draw (somdivrec) edge[isa] (immproc) edge[partof] (immsysdev);
\draw (igprod) edge[isa] (prodmed);
\draw (igmedresp) edge[isa] (bcellimm);
\draw (bcellactimm) edge[isa] (lymphactimm) edge[isa] (bcellact);
\draw (regdnarepair) edge[isa] (regdnamet) edge[isa] (regcellrespstress) edge[reg] (dnarepair);
\draw (dsbrepair) edge[isa] (dnarepair);
\draw (somcellrecomb) edge[isa] (dnarecomb);
\draw (cellrespuv) edge[isa] (respuv) edge[isa] (cellresplight);
\draw (somdivig) edge[isa] (somdivrec) edge[partof] (igprod);
\draw (igprodinv) edge[isa] (igprod) edge[partof] (igmedresp);
\draw (posregdnarepair) edge[isa] (regdnarepair) edge[isa] (posregdnamet) edge[isa] (regcellproc) edge[posreg] (dnarepair);
\draw (nhej) edge[isa] (dsbrepair);
\draw (somdivgerm) edge[isa] (somdivrec) edge[isa] (somcellrecomb);
\draw (somdivigimm) edge[isa] (somdivig) edge[partof] (igprodinv);
\draw (somrecseg) edge[isa] (somdivgerm) edge[isa] (somdivig);
\draw (somrecimm) edge[isa] (somrecseg) edge[isa] (somdivigimm);
\draw (isotype) edge[isa] (somrecimm) edge[isa, bend right=25] (bcellactimm);
\end{scope}
\end{tikzpicture}
\end{document}
